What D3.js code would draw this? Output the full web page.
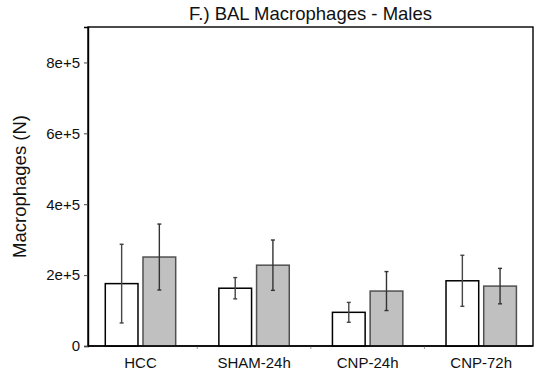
<!DOCTYPE html>
<html>
<head>
<meta charset="utf-8">
<script src="https://cdn.jsdelivr.net/npm/d3@7"></script>
<style>
  html, body { margin: 0; padding: 0; background: #fff; }
  svg { display: block; font-family: "Liberation Sans", Arial, sans-serif; }
</style>
</head>
<body>
<svg id="chart" width="543" height="380"></svg>
<script>
// Group labels along the x axis
const categories = ["HCC", "SHAM-24h", "CNP-24h", "CNP-72h"];
// Mean macrophage counts (white series, gray series)
const whiteMeans = [176000, 163000, 95000, 184000];
const grayMeans  = [251000, 228000, 155000, 169000];
// Error bar half-lengths
const whiteErr = [111000, 30000, 28000, 72000];
const grayErr  = [93000, 71000, 55000, 50000];
// Y axis ticks
const yTicks = [0, 200000, 400000, 600000, 800000];
const yTickLabels = ["0", "2e+5", "4e+5", "6e+5", "8e+5"];

const svg = d3.select("#chart");
const frame = { left: 88, right: 533, top: 27, bottom: 346 };

const x = d3.scaleBand().domain(categories).range([83.7, 538]).paddingInner(0).paddingOuter(0);
const y = d3.scaleLinear().domain([0, 900000]).range([frame.bottom, frame.top]);

const barW = 32.7, gap = 5;

// Plot frame
svg.append("rect")
  .attr("x", frame.left).attr("y", frame.top)
  .attr("width", frame.right - frame.left).attr("height", frame.bottom - frame.top)
  .attr("fill", "none").attr("stroke", "#000").attr("stroke-width", 1.4);

// Y axis with short outward ticks
const yAxis = d3.axisLeft(y).tickValues(yTicks)
  .tickFormat((d, i) => yTickLabels[i]).tickSize(4).tickPadding(4);
const yg = svg.append("g").attr("transform", `translate(${frame.left},0)`).call(yAxis);
yg.select(".domain").attr("stroke", "#000").attr("stroke-width", 1.4);
yg.selectAll(".tick line").attr("stroke", "#444");
yg.selectAll(".tick text").attr("font-size", 15).attr("fill", "#111")
  .attr("font-family", "Liberation Sans, Arial, sans-serif");

// X axis: category labels and small separators between groups
const xg = svg.append("g").attr("transform", `translate(0,${frame.bottom})`);
xg.selectAll("line.sep").data(categories.slice(1)).enter().append("line")
  .attr("class", "sep")
  .attr("x1", d => x(d)).attr("x2", d => x(d))
  .attr("y1", 0).attr("y2", 3)
  .attr("stroke", "#999").attr("stroke-width", 1);
xg.selectAll("text").data(categories).enter().append("text")
  .attr("x", d => x(d) + x.bandwidth() / 2)
  .attr("y", 22)
  .attr("text-anchor", "middle")
  .attr("font-size", 15).attr("fill", "#111")
  .text(d => d);

// Bars
const groups = categories.map((c, i) => ({
  cat: c,
  series: [
    { mean: whiteMeans[i], err: whiteErr[i], fill: "#ffffff", stroke: "#000", errColor: "#444", offset: -gap / 2 - barW },
    { mean: grayMeans[i], err: grayErr[i], fill: "#c0c0c0", stroke: "#505050", errColor: "#333", offset: gap / 2 }
  ]
}));

const g = svg.append("g");
groups.forEach(grp => {
  const cx = x(grp.cat) + x.bandwidth() / 2;
  grp.series.forEach(s => {
    const bx = cx + s.offset;
    g.append("rect")
      .attr("x", bx).attr("y", y(s.mean))
      .attr("width", barW).attr("height", y(0) - y(s.mean))
      .attr("fill", s.fill).attr("stroke", s.stroke).attr("stroke-width", 1.5);
    const mx = bx + barW / 2;
    const top = y(s.mean + s.err), bot = y(s.mean - s.err);
    g.append("line").attr("x1", mx).attr("x2", mx).attr("y1", top).attr("y2", bot)
      .attr("stroke", s.errColor).attr("stroke-width", 1.4);
    [top, bot].forEach(yy => {
      g.append("line").attr("x1", mx - 2).attr("x2", mx + 2).attr("y1", yy).attr("y2", yy)
        .attr("stroke", s.errColor).attr("stroke-width", 1.4);
    });
  });
});

// Redraw the baseline over the bar bottoms
svg.append("line")
  .attr("x1", frame.left).attr("x2", frame.right)
  .attr("y1", frame.bottom).attr("y2", frame.bottom)
  .attr("stroke", "#000").attr("stroke-width", 1.4);

// Title
svg.append("text")
  .attr("x", (frame.left + frame.right) / 2).attr("y", 20)
  .attr("text-anchor", "middle").attr("font-size", 18.5).attr("fill", "#111")
  .text("F.) BAL Macrophages - Males");

// Y axis title
svg.append("text")
  .attr("transform", `translate(25.7,${(frame.top + frame.bottom) / 2}) rotate(-90)`)
  .attr("text-anchor", "middle").attr("font-size", 18.5).attr("fill", "#111")
  .text("Macrophages (N)");
</script>
</body>
</html>
